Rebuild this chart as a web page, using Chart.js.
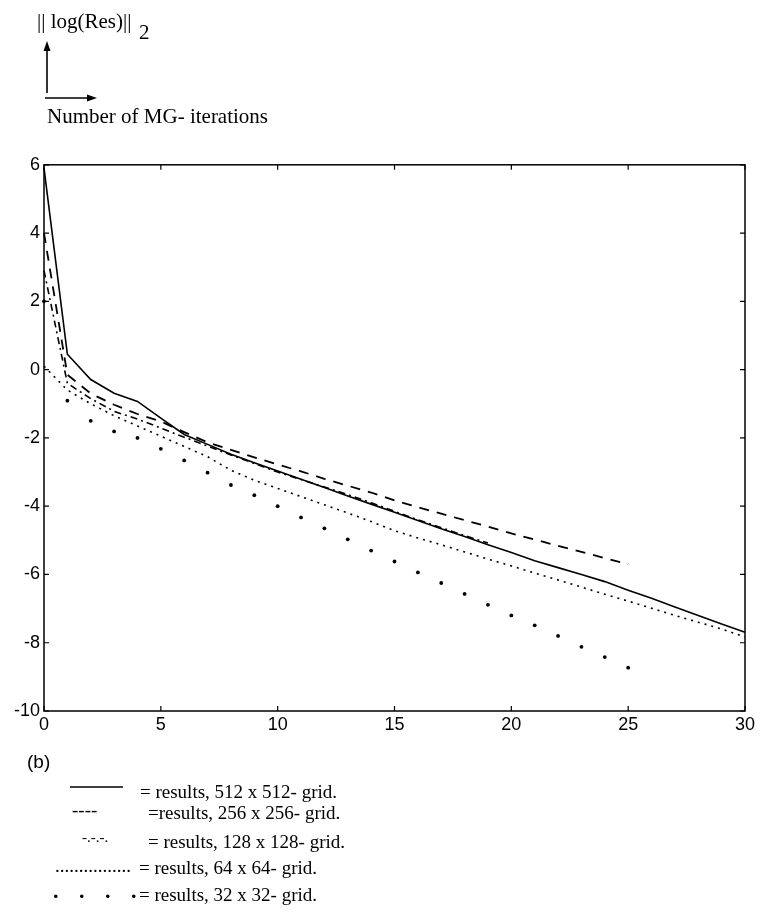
<!DOCTYPE html>
<html>
<head>
<meta charset="utf-8">
<script src="https://cdn.jsdelivr.net/npm/chart.js@4/dist/chart.umd.min.js"></script>
<style>
  html, body { margin:0; padding:0; background:#fff; }
  body { width:763px; height:914px; position:relative; overflow:hidden; font-family:"Liberation Serif","Times New Roman",serif; color:#000; }
  .t { position:absolute; white-space:nowrap; line-height:1; color:#000; will-change:transform; }
  #wrap { position:absolute; left:0; top:150px; width:763px; height:600px; }
</style>
</head>
<body>
<div class="t" style="left:37px; top:11px; font-size:21px;">|| log(Res)||</div>
<div class="t" style="left:139px; top:22px; font-size:21px;">2</div>
<svg style="position:absolute;left:0;top:0" width="200" height="110">
  <line x1="47" y1="93" x2="47" y2="48" stroke="#000" stroke-width="1.6"/>
  <polygon points="47,41 43.5,51 50.5,51" fill="#000"/>
  <line x1="45" y1="98" x2="90" y2="98" stroke="#000" stroke-width="1.6"/>
  <polygon points="97,98 87,94.5 87,101.5" fill="#000"/>
</svg>
<div class="t" style="left:47px; top:106px; font-size:21px;">Number of MG- iterations</div>

<div id="wrap"><canvas id="c" width="763" height="600"></canvas></div>

<div class="t" style="left:27px; top:752px; font-size:19px; font-family:'Liberation Sans',Arial,sans-serif;">(b)</div>
<svg style="position:absolute;left:0;top:780px" width="140" height="20">
  <line x1="70" y1="7" x2="123" y2="7" stroke="#000" stroke-width="1.5"/>
</svg>
<div class="t" style="left:140px; top:782px; font-size:19px;">= results, 512 x 512- grid.</div>
<div class="t" style="left:72px; top:800px; font-size:19px;">----</div>
<div class="t" style="left:148px; top:803px; font-size:19px;">=results, 256 x 256- grid.</div>
<div class="t" style="left:82px; top:830px; font-size:15px;">-.-.-.</div>
<div class="t" style="left:148px; top:832px; font-size:19px;">= results, 128 x 128- grid.</div>
<div class="t" style="left:55px; top:856px; font-size:19px;">................</div>
<div class="t" style="left:139px; top:858px; font-size:19px;">= results, 64 x 64- grid.</div>
<div class="t" style="left:53px; top:880px; font-size:22px; font-weight:bold; letter-spacing:20.5px;">....</div>
<div class="t" style="left:139px; top:885px; font-size:19px;">= results, 32 x 32- grid.</div>

<script>
// ---- data ----
const iterations512 = [0,1,2,3,4,5,6,7,8,9,10,11,12,13,14,15,16,17,18,19,20,21,22,23,24,25,26,27,28,29,30];
const res512 = [5.9,0.45,-0.29,-0.69,-0.93,-1.42,-1.9,-2.19,-2.48,-2.73,-2.97,-3.21,-3.45,-3.7,-3.94,-4.18,-4.42,-4.66,-4.89,-5.13,-5.36,-5.6,-5.8,-6.0,-6.21,-6.46,-6.7,-6.95,-7.2,-7.45,-7.69];

const iterations256 = [0,1,2,3,4,5,6,7,8,9,10,11,12,13,14,15,16,17,18,19,20,21,22,23,24,25];
const res256 = [4.0,-0.15,-0.7,-1.03,-1.3,-1.52,-1.83,-2.13,-2.35,-2.57,-2.78,-2.98,-3.2,-3.4,-3.6,-3.83,-4.03,-4.22,-4.41,-4.6,-4.8,-4.98,-5.16,-5.34,-5.52,-5.7];

const iterations128 = [0,1,2,3,4,5,6,7,8,9,10,11,12,13,14,15,16,17,18,19];
const res128 = [2.9,-0.4,-0.85,-1.22,-1.45,-1.71,-1.98,-2.24,-2.5,-2.75,-3.0,-3.22,-3.44,-3.66,-3.9,-4.15,-4.4,-4.63,-4.86,-5.08];

const iterations64 = [0,1,2,3,4,5,6,7,8,9,10,11,12,13,14,15,16,17,18,19,20,21,22,23,24,25,26,27,28,29,30];
const res64 = [0.1,-0.6,-1.0,-1.35,-1.65,-1.95,-2.25,-2.55,-2.95,-3.24,-3.48,-3.72,-3.96,-4.2,-4.45,-4.72,-4.93,-5.13,-5.34,-5.55,-5.75,-5.96,-6.16,-6.37,-6.58,-6.78,-6.99,-7.2,-7.4,-7.6,-7.83];

const iterations32 = [0,1,2,3,4,5,6,7,8,9,10,11,12,13,14,15,16,17,18,19,20,21,22,23,24,25];
const res32 = [2.0,-0.91,-1.5,-1.81,-2.0,-2.32,-2.66,-3.02,-3.38,-3.68,-4.0,-4.33,-4.65,-4.97,-5.3,-5.62,-5.94,-6.25,-6.57,-6.89,-7.2,-7.49,-7.8,-8.12,-8.42,-8.73];

const xTicks = [0,5,10,15,20,25,30];
const yTicks = [-10,-8,-6,-4,-2,0,2,4,6];

const pts = (xs, ys) => xs.map((x, i) => ({x: x, y: ys[i]}));

const boxPlugin = {
  id: 'box',
  afterDraw(chart) {
    const {ctx, chartArea: a, scales: {x, y}} = chart;
    ctx.save();
    ctx.strokeStyle = '#000';
    ctx.lineWidth = 1.5;
    ctx.strokeRect(a.left, a.top, a.right - a.left, a.bottom - a.top);
    const L = 5;
    ctx.lineWidth = 1.2;
    ctx.beginPath();
    xTicks.forEach(v => {
      const px = x.getPixelForValue(v);
      ctx.moveTo(px, a.bottom); ctx.lineTo(px, a.bottom - L);
      ctx.moveTo(px, a.top); ctx.lineTo(px, a.top + L);
    });
    yTicks.forEach(v => {
      const py = y.getPixelForValue(v);
      ctx.moveTo(a.left, py); ctx.lineTo(a.left + L, py);
      ctx.moveTo(a.right, py); ctx.lineTo(a.right - L, py);
    });
    ctx.stroke();
    ctx.restore();
  }
};

const tickFont = {family: "'Liberation Sans', Arial, sans-serif", size: 18};

new Chart(document.getElementById('c'), {
  type: 'line',
  data: {
    datasets: [
      {label: '512', data: pts(iterations512, res512), borderColor: '#000', borderWidth: 1.6, pointRadius: 0, fill: false, tension: 0, clip: false},
      {label: '256', data: pts(iterations256, res256), borderColor: '#000', borderWidth: 1.8, borderDash: [10, 8], pointRadius: 0, fill: false, tension: 0, clip: false},
      {label: '128', data: pts(iterations128, res128), borderColor: '#000', borderWidth: 1.6, borderDash: [7, 4, 2, 4], pointRadius: 0, fill: false, tension: 0, clip: false},
      {label: '64', data: pts(iterations64, res64), borderColor: '#000', borderWidth: 1.6, borderDash: [2, 5], pointRadius: 0, fill: false, tension: 0, clip: false},
      {label: '32', data: pts(iterations32, res32), borderColor: '#000', backgroundColor: '#000', showLine: false, pointRadius: 1.9, pointBorderWidth: 0, clip: false}
    ]
  },
  options: {
    responsive: false,
    animation: false,
    events: [],
    layout: {padding: {top: 13, right: 18, left: 0, bottom: 0}},
    plugins: {legend: {display: false}, tooltip: {enabled: false}},
    scales: {
      x: {
        type: 'linear', min: 0, max: 30,
        afterBuildTicks: s => { s.ticks = xTicks.map(v => ({value: v})); },
        ticks: {font: tickFont, color: '#000', padding: 3, maxRotation: 0, autoSkip: false},
        grid: {display: false, drawTicks: false},
        border: {display: false},
        afterFit: s => { s.height = 39; }
      },
      y: {
        type: 'linear', min: -10, max: 6,
        afterBuildTicks: s => { s.ticks = yTicks.map(v => ({value: v})); },
        ticks: {font: tickFont, color: '#000', padding: 4, autoSkip: false},
        grid: {display: false, drawTicks: false},
        border: {display: false},
        afterFit: s => { s.width = 44; }
      }
    }
  },
  plugins: [boxPlugin]
});
</script>
</body>
</html>
